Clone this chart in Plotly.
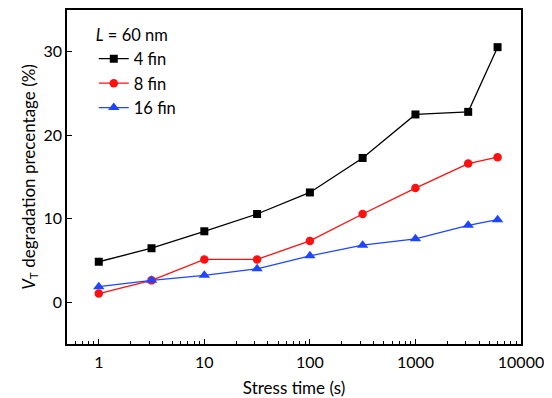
import plotly.graph_objects as go

stress_time = [1, 3.16, 10, 31.6, 100, 316, 1000, 3160, 6000]
fin4 = [4.85, 6.47, 8.5, 10.57, 13.15, 17.28, 22.49, 22.8, 30.55]
fin8 = [1.04, 2.62, 5.13, 5.13, 7.35, 10.57, 13.67, 16.61, 17.37]
fin16 = [1.87, 2.62, 3.22, 4.01, 5.56, 6.83, 7.59, 9.22, 9.89]

FONT = "Lato"
BLUE = "#1f45ff"
RED = "#ff1010"
fig = go.Figure()
fig.add_trace(go.Scatter(x=stress_time, y=fin4, name="4 fin", mode="lines+markers",
                         line=dict(color="black", width=1.3),
                         marker=dict(symbol="square", size=8, color="black")))
fig.add_trace(go.Scatter(x=stress_time, y=fin8, name="8 fin", mode="lines+markers",
                         line=dict(color=RED, width=1.3),
                         marker=dict(symbol="circle", size=8.5, color=RED)))
fig.add_trace(go.Scatter(x=stress_time, y=fin16, name="16 fin", mode="lines+markers",
                         line=dict(color=BLUE, width=1.3),
                         marker=dict(symbol="triangle-up", size=10, color=BLUE)))

# page has an 8px body margin, so the figure is sized to fit the 552x398 window
fig.update_layout(
    width=544, height=390,
    margin=dict(l=59, r=31, t=2, b=54),
    paper_bgcolor="white", plot_bgcolor="white",
    font=dict(family=FONT, size=16, color="black"),
    showlegend=True,
    legend=dict(x=0.059, y=0.97, xanchor="left", yanchor="top",
                bgcolor="rgba(0,0,0,0)", font=dict(size=16.5),
                title=dict(text="<i>L</i> = 60 nm", font=dict(size=16.5)),
                itemwidth=30, tracegroupgap=0),
)
fig.update_xaxes(type="log", range=[-0.30103, 4], showgrid=False, zeroline=False,
                 automargin=False,
                 showline=True, linecolor="black", linewidth=1.5, mirror=True,
                 ticks="inside", ticklen=5, tickcolor="black", tickwidth=1.2,
                 ticklabelstandoff=3,
                 tickvals=[1, 10, 100, 1000, 10000],
                 ticktext=["1", "10", "100", "1000", "10000"],
                 minor=dict(ticks="inside", ticklen=3, tickcolor="black", tickwidth=1,
                            tickvals=[0.6, 0.7, 0.8, 0.9, 2, 3, 4, 5, 6, 7, 8, 9,
                                      20, 30, 40, 50, 60, 70, 80, 90,
                                      200, 300, 400, 500, 600, 700, 800, 900,
                                      2000, 3000, 4000, 5000, 6000, 7000, 8000, 9000],
                            showgrid=False),
                 title=dict(text="Stress time (s)", standoff=13, font=dict(size=17)),
                 tickfont=dict(size=16))
fig.update_yaxes(range=[-5, 35], showgrid=False, zeroline=False,
                 automargin=False,
                 showline=True, linecolor="black", linewidth=1.5, mirror=True,
                 ticks="inside", ticklen=5, tickcolor="black", tickwidth=1.2,
                 tickvals=[0, 10, 20, 30],
                 title=dict(text="<i>V</i><sub>T</sub> degradation precentage (%)", standoff=4,
                            font=dict(size=17)),
                 tickfont=dict(size=16))

fig.write_html("out.html")
